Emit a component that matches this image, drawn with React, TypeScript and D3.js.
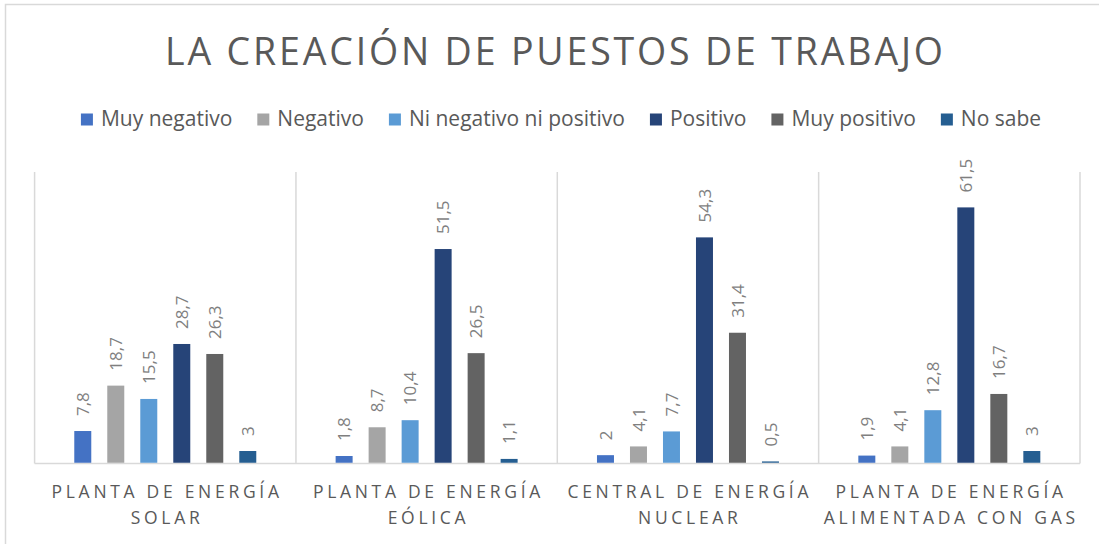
import React, { useEffect, useRef } from "react";
import * as d3 from "d3";

const TITLE = "LA CREACIÓN DE PUESTOS DE TRABAJO";
const categories = [
  ["PLANTA DE ENERGÍA", "SOLAR"],
  ["PLANTA DE ENERGÍA", "EÓLICA"],
  ["CENTRAL DE ENERGÍA", "NUCLEAR"],
  ["PLANTA DE ENERGÍA", "ALIMENTADA CON GAS"],
];
const seriesNames = ["Muy negativo", "Negativo", "Ni negativo ni positivo", "Positivo", "Muy positivo", "No sabe"];
const seriesColors = ["#4472C4", "#A5A5A5", "#5B9BD5", "#264478", "#636363", "#255E91"];
const solarValues = [7.8, 18.7, 15.5, 28.7, 26.3, 3];
const eolicaValues = [1.8, 8.7, 10.4, 51.5, 26.5, 1.1];
const nuclearValues = [2, 4.1, 7.7, 54.3, 31.4, 0.5];
const gasValues = [1.9, 4.1, 12.8, 61.5, 16.7, 3];
const valuesByCategory = [solarValues, eolicaValues, nuclearValues, gasValues];
const yDomain = [0, 70];

const W = 1099;
const H = 544;

export default function App() {
  const ref = useRef<SVGSVGElement | null>(null);

  useEffect(() => {
    const svg = d3.select(ref.current);
    svg.selectAll("*").remove();

    const plot = { left: 34.6, right: 1080, top: 172, bottom: 463.5 };
    const font = "'Open Sans', 'DejaVu Sans', sans-serif";

    // chart border
    svg.append("rect")
      .attr("x", 5.5).attr("y", 4.5).attr("width", W + 10).attr("height", H + 10)
      .attr("fill", "#fff").attr("stroke", "#d9d9d9").attr("stroke-width", 1.5);

    // title
    svg.append("text")
      .attr("x", 554).attr("y", 65)
      .attr("text-anchor", "middle")
      .attr("font-family", font).attr("font-weight", 400)
      .attr("font-size", 37.5).attr("fill", "#595959")
      .attr("textLength", 778).attr("lengthAdjust", "spacing")
      .text(TITLE);

    // legend
    const legendG = svg.append("g");
    const swatch = 12, swGap = 8, itemGap = 25, legendFont = 21;
    const items = seriesNames.map((name, i) => {
      const g = legendG.append("g");
      g.append("rect").attr("width", swatch).attr("height", swatch).attr("y", -swatch - 0.5).attr("fill", seriesColors[i]);
      const t = g.append("text")
        .attr("x", swatch + swGap).attr("y", 0)
        .attr("font-family", font).attr("font-size", legendFont).attr("fill", "#595959")
        .text(name);
      const w = (t.node() as SVGTextElement).getComputedTextLength();
      return { g, w: swatch + swGap + w };
    });
    const total = d3.sum(items, (d) => d.w) + itemGap * (items.length - 1);
    let lx = 561 - total / 2;
    items.forEach((it) => {
      it.g.attr("transform", `translate(${lx},126)`);
      lx += it.w + itemGap;
    });

    // scales
    const catIdx = categories.map((_, i) => String(i));
    const x0 = d3.scaleBand<string>().domain(catIdx).range([plot.left, plot.right]).padding(0);
    const y = d3.scaleLinear().domain(yDomain).range([plot.bottom, plot.top]);
    const groupHalf = 99;
    const x1 = d3.scaleBand<string>().domain(seriesNames)
      .range([-groupHalf, groupHalf]).paddingInner(0.485).paddingOuter(0.2425);

    // vertical gridlines / category separators
    const bounds = [...catIdx.map((c) => x0(c) as number), plot.right];
    svg.append("g").selectAll("line").data(bounds).join("line")
      .attr("x1", (d) => d).attr("x2", (d) => d)
      .attr("y1", plot.top).attr("y2", plot.bottom)
      .attr("stroke", "#d9d9d9").attr("stroke-width", 1.5);

    // baseline
    svg.append("line")
      .attr("x1", plot.left).attr("x2", plot.right)
      .attr("y1", plot.bottom).attr("y2", plot.bottom)
      .attr("stroke", "#d9d9d9").attr("stroke-width", 1.5);

    // bars
    catIdx.forEach((c, ci) => {
      const cx = (x0(c) as number) + x0.bandwidth() / 2;
      const g = svg.append("g").attr("transform", `translate(${cx},0)`);
      const data = valuesByCategory[ci].map((v, si) => ({ v, s: seriesNames[si], color: seriesColors[si] }));
      g.selectAll("rect").data(data).join("rect")
        .attr("x", (d) => x1(d.s) as number)
        .attr("width", x1.bandwidth())
        .attr("y", (d) => y(d.v))
        .attr("height", (d) => y(0) - y(d.v) - 0.75)
        .attr("fill", (d) => d.color);
      g.selectAll("text").data(data).join("text")
        .attr("transform", (d) => `translate(${(x1(d.s) as number) + x1.bandwidth() / 2},${y(d.v) - 15}) rotate(-90)`)
        .attr("dy", "0.36em")
        .attr("font-family", font).attr("font-size", 17).attr("fill", "#7f7f7f")
        .text((d) => String(d.v).replace(".", ","));
    });

    // category labels
    const ls = 3.7;
    catIdx.forEach((c, ci) => {
      const cx = (x0(c) as number) + x0.bandwidth() / 2;
      categories[ci].forEach((line, li) => {
        svg.append("text")
          .attr("x", cx + ls / 2).attr("y", 497.5 + li * 26)
          .attr("text-anchor", "middle")
          .attr("font-family", font).attr("font-size", 17.5)
          .attr("letter-spacing", ls)
          .attr("fill", "#595959")
          .text(line);
      });
    });
  }, []);

  return (
    <svg
      ref={ref}
      width={W}
      height={H}
      style={{ position: "absolute", left: 0, top: 0, background: "#fff" }}
    />
  );
}
